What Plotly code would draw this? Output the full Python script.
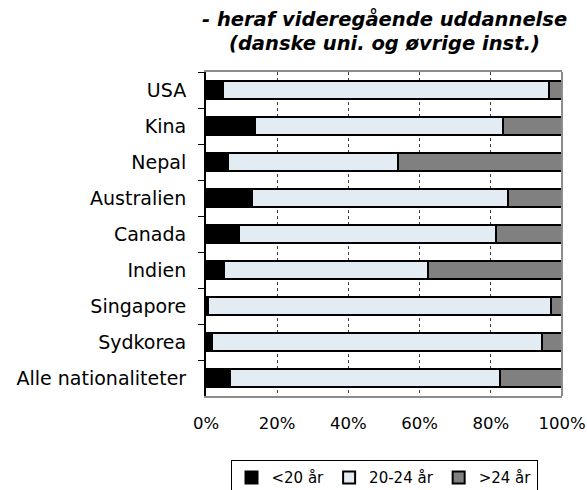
import plotly.graph_objects as go

# Age distribution of students in higher education, by nationality (share of each group)
countries = ["USA", "Kina", "Nepal", "Australien", "Canada", "Indien",
             "Singapore", "Sydkorea", "Alle nationaliteter"]
under_20 = [4.7, 13.8, 6.3, 13.0, 9.4, 5.1, 0.7, 1.6, 6.7]
age_20_24 = [91.7, 69.7, 47.7, 71.8, 72.1, 57.2, 96.3, 92.9, 75.9]
over_24 = [3.6, 16.5, 46.0, 15.2, 18.5, 37.7, 3.0, 5.5, 17.4]

title_lines = ["- heraf videregående uddannelse", "(danske uni. og øvrige inst.)"]

series = [
    ("<20 år", under_20, "#000000"),
    ("20-24 år", age_20_24, "#E3EBF3"),
    (">24 år", over_24, "#808080"),
]

font_family = "DejaVu Sans"

fig = go.Figure()
for name, vals, color in series:
    fig.add_trace(go.Bar(
        name=name,
        y=countries,
        x=vals,
        orientation="h",
        width=0.48,
        marker=dict(color=color, line=dict(color="#000000", width=2)),
    ))

fig.update_layout(
    barmode="stack",
    width=587,
    height=490,
    margin=dict(l=206, r=25, t=72, b=94, autoexpand=False),
    paper_bgcolor="white",
    plot_bgcolor="white",
    font=dict(family=font_family, color="#000000", size=17),
    legend=dict(
        orientation="h",
        x=0.5,
        xanchor="center",
        y=-0.198,
        yanchor="top",
        bordercolor="#000000",
        borderwidth=1,
        font=dict(family=font_family, size=15),
        traceorder="normal",
        itemwidth=30,
    ),
    showlegend=True,
)

# two-line italic heading above the plot area
for text, ypos in zip(title_lines, [1.165, 1.088]):
    fig.add_annotation(
        text=f"<b><i>{text}</i></b>",
        xref="paper", yref="paper",
        x=0.5, y=ypos,
        xanchor="center", yanchor="middle",
        showarrow=False,
        font=dict(family=font_family, size=19.5, color="#000000"),
    )

fig.update_xaxes(
    range=[0, 100],
    tickvals=[0, 20, 40, 60, 80, 100],
    ticktext=["0%", "20%", "40%", "60%", "80%", "100%"],
    showgrid=True,
    gridcolor="#404040",
    griddash="dot",
    gridwidth=1,
    showline=True,
    linecolor="#8c8c8c",
    linewidth=2,
    mirror=True,
    ticks="",
    ticklabelstandoff=11,
    zeroline=False,
    automargin=False,
    tickfont=dict(size=16.5),
)

fig.update_yaxes(
    autorange="reversed",
    showline=True,
    linecolor="#000000",
    linewidth=2,
    ticks="outside",
    tickson="boundaries",
    ticklen=6,
    tickcolor="#000000",
    ticklabelstandoff=14,
    showgrid=False,
    automargin=False,
    tickfont=dict(size=19),
)

# right-hand frame edge in grey
fig.add_shape(type="line", xref="paper", yref="paper", x0=1, x1=1, y0=0, y1=1,
              line=dict(color="#8c8c8c", width=2))

fig.write_html("out.html")
